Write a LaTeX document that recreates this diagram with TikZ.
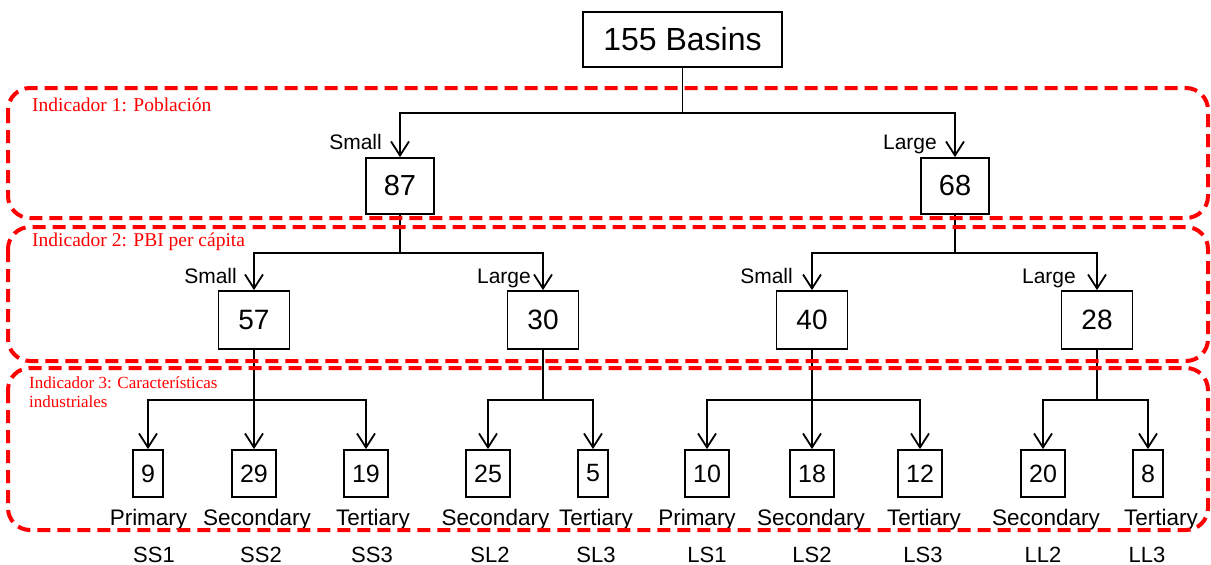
\documentclass[tikz,border=0pt]{standalone}
\usepackage{fontspec}
\setmainfont{Liberation Sans}
\newfontfamily\bandfont{Liberation Serif}
\usetikzlibrary{arrows.meta}
\begin{document}
\begin{tikzpicture}[x=1pt,y=-1pt,
  wire/.style={line width=1.8pt},
  arr/.style={wire,-{Straight Barb[length=14pt,width=18pt]}},
  rootbox/.style={draw,line width=1.8pt,minimum width=199pt,minimum height=55pt,inner sep=0pt,font=\fontsize{32}{36}\selectfont},
  topbox/.style={draw,line width=1.8pt,minimum width=68pt,minimum height=56pt,inner sep=0pt,font=\fontsize{29}{32}\selectfont},
  midbox/.style={draw,line width=1.8pt,minimum width=71pt,minimum height=58pt,inner sep=0pt,font=\fontsize{28}{32}\selectfont},
  leafbox/.style={draw,line width=1.8pt,minimum height=47pt,inner xsep=8pt,inner ysep=0pt,font=\fontsize{25}{28}\selectfont},
  tag/.style={font=\fontsize{21}{24}\selectfont,anchor=base east,inner sep=0pt},
  cat/.style={font=\fontsize{22.5}{26}\selectfont,anchor=base,inner sep=0pt},
  code/.style={font=\fontsize{22}{26}\selectfont,anchor=base,inner sep=0pt},
  band/.style={draw=red,line width=4pt,dash pattern=on 13pt off 7pt,rounded corners=22pt},
  bandlabel/.style={text=red,inner sep=0pt,anchor=base west,align=left}
]
\useasboundingbox (0,0) rectangle (1211,565);

% boxes
\node[rootbox] (root) at (682.5,39.5) {155 Basins};
\node[topbox] (n87) at (400,186) {87};
\node[topbox] (n68) at (955,186) {68};
\node[midbox] (n57) at (254,320) {57};
\node[midbox] (n30) at (543,320) {30};
\node[midbox] (n40) at (812,320) {40};
\node[midbox] (n28) at (1097,320) {28};
\node[leafbox] (l9)  at (148,473.5) {9};
\node[leafbox] (l29) at (254,473.5) {29};
\node[leafbox] (l19) at (366,473.5) {19};
\node[leafbox] (l25) at (488,473.5) {25};
\node[leafbox] (l5)  at (593,473.5) {5};
\node[leafbox] (l10) at (707,473.5) {10};
\node[leafbox] (l18) at (812,473.5) {18};
\node[leafbox] (l12) at (920,473.5) {12};
\node[leafbox] (l20) at (1043,473.5) {20};
\node[leafbox] (l8)  at (1148,473.5) {8};

% junction points
\coordinate (j0)  at (682.5,113);
\coordinate (jS)  at (400,253);
\coordinate (jL)  at (955,253);
\coordinate (jSS) at (254,400);
\coordinate (jSL) at (543,400);
\coordinate (jLS) at (812,400);
\coordinate (jLL) at (1097,400);

% connectors
\draw[wire] (root.south) -- (j0);
\draw[arr] (j0) -| (n87.north);
\draw[arr] (j0) -| (n68.north);
\draw[wire] (n87.south) -- (jS);
\draw[arr] (jS) -| (n57.north);
\draw[arr] (jS) -| (n30.north);
\draw[wire] (n68.south) -- (jL);
\draw[arr] (jL) -| (n40.north);
\draw[arr] (jL) -| (n28.north);
\draw[wire] (n57.south) -- (jSS);
\draw[arr] (jSS) -| (l9.north);
\draw[arr] (jSS) -- (l29.north);
\draw[arr] (jSS) -| (l19.north);
\draw[wire] (n30.south) -- (jSL);
\draw[arr] (jSL) -| (l25.north);
\draw[arr] (jSL) -| (l5.north);
\draw[wire] (n40.south) -- (jLS);
\draw[arr] (jLS) -| (l10.north);
\draw[arr] (jLS) -- (l18.north);
\draw[arr] (jLS) -| (l12.north);
\draw[wire] (n28.south) -- (jLL);
\draw[arr] (jLL) -| (l20.north);
\draw[arr] (jLL) -| (l8.north);

% branch labels
\node[tag] (t1) at (382,149) {Small};
\node[tag] (t2) at (937,149) {Large};
\node[tag] (t3) at (237,283) {Small};
\node[tag] (t4) at (531,283) {Large};
\node[tag] (t5) at (793,283) {Small};
\node[tag] (t6) at (1076,283) {Large};

% sector names
\node[cat] (c1)  at (148.5,525) {Primary};
\node[cat] (c2)  at (257,525) {Secondary};
\node[cat] (c3)  at (373,525) {Tertiary};
\node[cat] (c4)  at (495.5,525) {Secondary};
\node[cat] (c5)  at (596,525) {Tertiary};
\node[cat] (c6)  at (697,525) {Primary};
\node[cat] (c7)  at (811,525) {Secondary};
\node[cat] (c8)  at (924,525) {Tertiary};
\node[cat] (c9)  at (1046,525) {Secondary};
\node[cat] (c10) at (1161,525) {Tertiary};

% group codes
\node[code] (s1)  at (154,562) {SS1};
\node[code] (s2)  at (261,562) {SS2};
\node[code] (s3)  at (372,562) {SS3};
\node[code] (s4)  at (490,562) {SL2};
\node[code] (s5)  at (596,562) {SL3};
\node[code] (s6)  at (707,562) {LS1};
\node[code] (s7)  at (812,562) {LS2};
\node[code] (s8)  at (923,562) {LS3};
\node[code] (s9)  at (1043,562) {LL2};
\node[code] (s10) at (1147,562) {LL3};

% indicator bands
\draw[band] (8,88) rectangle (1208,218);
\draw[band] (8,227) rectangle (1208,361);
\draw[band] (8,368) rectangle (1208,530);
\node[bandlabel,font=\bandfont\fontsize{19.5}{19}\selectfont] (b1) at (32,111) {Indicador 1: Población};
\node[bandlabel,font=\bandfont\fontsize{19.5}{19}\selectfont] (b2) at (32,246.5) {Indicador 2: PBI per cápita};
\node[bandlabel,font=\bandfont\fontsize{17}{19}\selectfont] (b3) at (29,407) {Indicador 3: Características\\industriales};
\end{tikzpicture}
\end{document}
